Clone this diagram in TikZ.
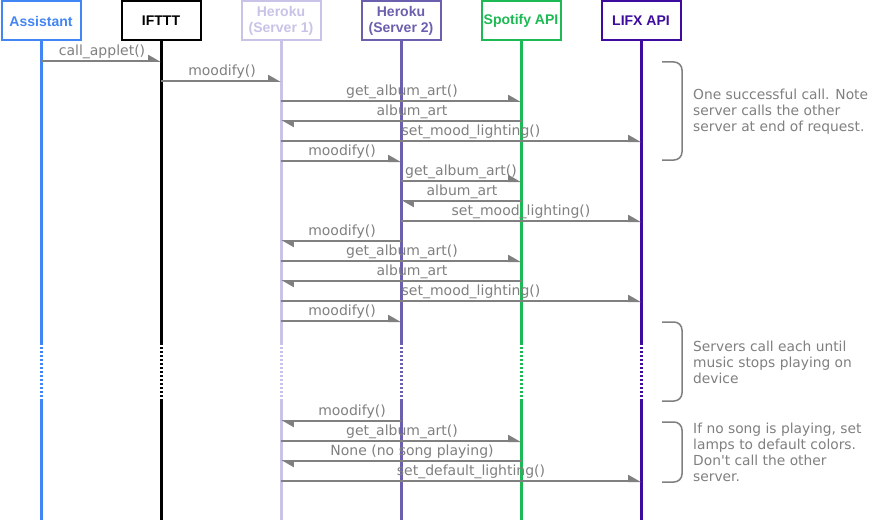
\documentclass[tikz,border=0pt]{standalone}
\usepackage{fontspec}
\newfontfamily\labfont{DejaVu Sans}
\newfontfamily\hdfont{Liberation Sans}
\usetikzlibrary{arrows.meta}
\definecolor{cAs}{HTML}{4285F4}
\definecolor{cIf}{HTML}{000000}
\definecolor{cHa}{HTML}{C9C3E8}
\definecolor{cHb}{HTML}{6A60AE}
\definecolor{cSp}{HTML}{1DB954}
\definecolor{cLx}{HTML}{3D0C9E}
\definecolor{cGr}{HTML}{808080}
\newcommand\sqmsg[6]{%
  \draw[msg] (#1 |- 0,#3) -- (#2 |- 0,#3);
  \node[lab] (#6) at (#4,#3-9.5) {#5};}
\newcommand\lifeline[2]{%
  \draw[ll,#2] (#1.south) -- (#1 |- 0,343);
  \draw[ll,#2,dash pattern=on 2pt off 2pt] (#1 |- 0,343) -- (#1 |- 0,401);
  \draw[ll,#2] (#1 |- 0,401) -- (#1 |- 0,520);}
\begin{document}
\begin{tikzpicture}[x=1pt,y=-1pt,
  hd/.style={draw, line width=2pt, fill=white, minimum width=79pt, minimum height=39pt,
    inner sep=0pt, align=center, font=\hdfont\bfseries\fontsize{14}{16}\selectfont},
  ll/.style={line width=3pt},
  msg/.style={draw=cGr, line width=2pt, -{Triangle[harpoon,length=11pt,width=12pt]}},
  lab/.style={text=cGr, inner sep=0pt, font=\labfont\fontsize{14}{16}\selectfont},
  note/.style={text=cGr, inner sep=0pt, anchor=west, align=left, font=\labfont\fontsize{13.8}{16}\selectfont},
  brc/.style={draw=cGr, line width=1.5pt, rounded corners=8pt}]
\useasboundingbox (0,0) rectangle (882,524);
\fill[white] (0,0) rectangle (882,524);
\node[hd, draw=cAs, text=cAs] (as) at (41,21) {Assistant};
\node[hd, draw=cIf, text=cIf] (if) at (161,21) {IFTTT};
\node[hd, draw=cHa, text=cHa] (ha) at (281,21) {Heroku\\(Server 1)};
\node[hd, draw=cHb, text=cHb] (hb) at (401,21) {Heroku\\(Server 2)};
\node[hd, draw=cSp, text=cSp] (sp) at (521,21) {Spotify API};
\node[hd, draw=cLx, text=cLx] (lx) at (641,21) {LIFX API};
\lifeline{as}{cAs}
\lifeline{if}{cIf}
\lifeline{ha}{cHa}
\lifeline{hb}{cHb}
\lifeline{sp}{cSp}
\lifeline{lx}{cLx}
\sqmsg{as}{if}{61}{102}{call\_applet()}{m1}
\sqmsg{if}{ha}{81}{222}{moodify()}{m2}
\sqmsg{ha}{sp}{101}{402}{get\_album\_art()}{m3}
\sqmsg{sp}{ha}{121}{412}{album\_art}{m4}
\sqmsg{ha}{lx}{141}{471}{set\_mood\_lighting()}{m5}
\sqmsg{ha}{hb}{161}{342}{moodify()}{m6}
\sqmsg{hb}{sp}{181}{461}{get\_album\_art()}{m7}
\sqmsg{sp}{hb}{201}{462}{album\_art}{m8}
\sqmsg{hb}{lx}{221}{521}{set\_mood\_lighting()}{m9}
\sqmsg{hb}{ha}{241}{342}{moodify()}{m10}
\sqmsg{ha}{sp}{261}{402}{get\_album\_art()}{m11}
\sqmsg{sp}{ha}{281}{412}{album\_art}{m12}
\sqmsg{ha}{lx}{301}{471}{set\_mood\_lighting()}{m13}
\sqmsg{ha}{hb}{321}{342}{moodify()}{m14}
\sqmsg{hb}{ha}{421}{352}{moodify()}{m15}
\sqmsg{ha}{sp}{441}{402}{get\_album\_art()}{m16}
\sqmsg{sp}{ha}{461}{412}{None (no song playing)}{m17}
\sqmsg{ha}{lx}{481}{471}{set\_default\_lighting()}{m18}
\draw[brc] (662,62) -| (682,160) -- (662,160);
\draw[brc] (662,322) -| (682,401) -- (662,401);
\draw[brc] (662,422) -| (682,482) -- (662,482);
\node[note] (n1) at (693,112) {One successful call. Note\\server calls the other\\server at end of request.};
\node[note] (n2) at (693,362) {Servers call each until\\music stops playing on\\device};
\node[note] (n3) at (693,452) {If no song is playing, set\\lamps to default colors.\\Don't call the other\\server.};
\end{tikzpicture}
\end{document}
